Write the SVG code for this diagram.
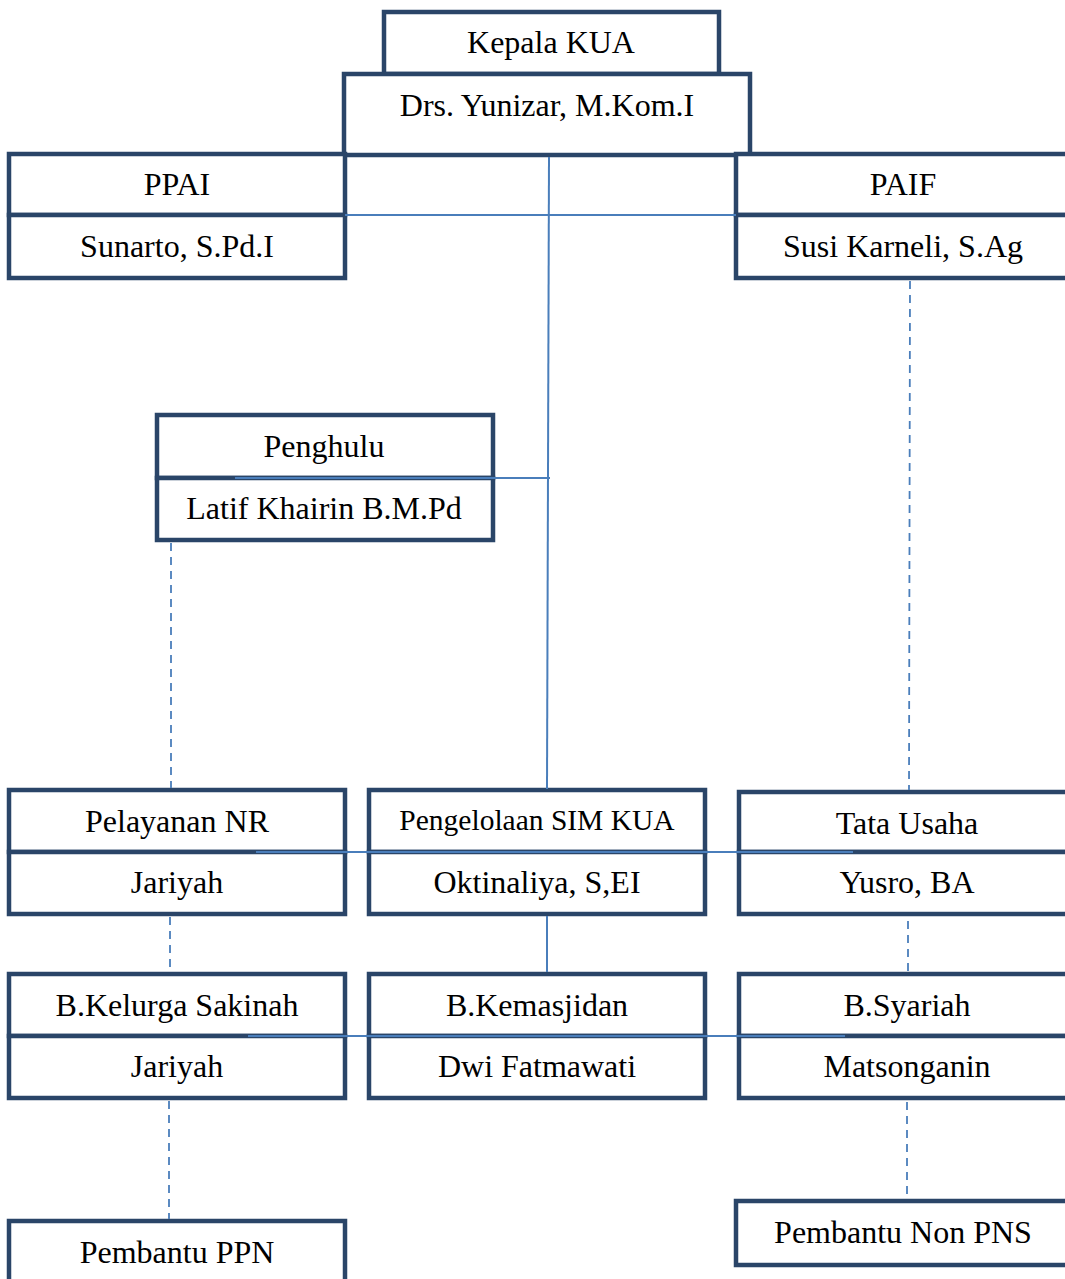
<svg xmlns="http://www.w3.org/2000/svg" width="1065" height="1279" viewBox="0 0 1065 1279">
<style>
.b{fill:#fff;stroke:#2A4568;stroke-width:4.5}
.t{font-family:"Liberation Serif","Times New Roman",serif;font-size:32px;fill:#000;text-anchor:middle}
.s{font-size:29.5px}
.c{stroke:#4A7EBB;stroke-width:2;fill:none}
.d{stroke:#4A7EBB;stroke-width:1.8;fill:none;stroke-dasharray:8,6}
</style>
<rect width="1065" height="1279" fill="#fff"/>
<g id="kepala">
<rect class="b" x="384" y="12" width="335" height="62"/>
<rect class="b" x="344" y="74" width="406" height="81"/>
<text class="t" x="551" y="53">Kepala KUA</text>
<text class="t" x="547" y="116">Drs. Yunizar, M.Kom.I</text>
</g>
<g id="ppai">
<rect class="b" x="9" y="154" width="336" height="61"/>
<rect class="b" x="9" y="215" width="336" height="63"/>
<text class="t" x="177" y="195">PPAI</text>
<text class="t" x="177" y="257">Sunarto, S.Pd.I</text>
</g>
<g id="paif">
<rect class="b" x="736" y="154" width="340" height="61"/>
<rect class="b" x="736" y="215" width="340" height="63"/>
<text class="t" x="903" y="195">PAIF</text>
<text class="t" x="903" y="257">Susi Karneli, S.Ag</text>
</g>
<g id="penghulu">
<rect class="b" x="157" y="415" width="336" height="63"/>
<rect class="b" x="157" y="478" width="336" height="62"/>
<text class="t" x="324" y="457">Penghulu</text>
<text class="t" x="324" y="519">Latif Khairin B.M.Pd</text>
</g>
<g id="pelayanan">
<rect class="b" x="9" y="790" width="336" height="62"/>
<rect class="b" x="9" y="852" width="336" height="62"/>
<text class="t" x="177" y="832">Pelayanan NR</text>
<text class="t" x="177" y="893">Jariyah</text>
</g>
<g id="sim">
<rect class="b" x="369" y="790" width="336" height="62"/>
<rect class="b" x="369" y="852" width="336" height="62"/>
<text class="t s" x="537" y="830">Pengelolaan SIM KUA</text>
<text class="t" x="537" y="893">Oktinaliya, S,EI</text>
</g>
<g id="tatausaha">
<rect class="b" x="739" y="792" width="340" height="60"/>
<rect class="b" x="739" y="852" width="340" height="62"/>
<text class="t" x="907" y="834">Tata Usaha</text>
<text class="t" x="907" y="893">Yusro, BA</text>
</g>
<g id="sakinah">
<rect class="b" x="9" y="974" width="336" height="62"/>
<rect class="b" x="9" y="1036" width="336" height="62"/>
<text class="t" x="177" y="1016">B.Kelurga Sakinah</text>
<text class="t" x="177" y="1077">Jariyah</text>
</g>
<g id="kemasjidan">
<rect class="b" x="369" y="974" width="336" height="62"/>
<rect class="b" x="369" y="1036" width="336" height="62"/>
<text class="t" x="537" y="1016">B.Kemasjidan</text>
<text class="t" x="537" y="1077">Dwi Fatmawati</text>
</g>
<g id="syariah">
<rect class="b" x="739" y="974" width="340" height="62"/>
<rect class="b" x="739" y="1036" width="340" height="62"/>
<text class="t" x="907" y="1016">B.Syariah</text>
<text class="t" x="907" y="1077">Matsonganin</text>
</g>
<g id="pembantuppn">
<rect class="b" x="9" y="1221" width="336" height="70"/>
<text class="t" x="177" y="1263">Pembantu PPN</text>
</g>
<g id="pembantunonpns">
<rect class="b" x="736" y="1201" width="340" height="64"/>
<text class="t" x="903" y="1243">Pembantu Non PNS</text>
</g>
<g id="connectors">
<line class="c" x1="549" y1="157" x2="547" y2="789"/>
<line class="c" x1="345" y1="215" x2="736" y2="215"/>
<line class="c" x1="235" y1="478" x2="550" y2="478"/>
<line class="c" x1="256" y1="852" x2="853" y2="852"/>
<line class="c" x1="547" y1="916" x2="547" y2="972"/>
<line class="c" x1="248" y1="1036" x2="845" y2="1036"/>
<line class="d" x1="171" y1="543" x2="171" y2="788"/>
<line class="d" x1="910" y1="281" x2="909" y2="790"/>
<line class="d" x1="170" y1="917" x2="170" y2="972"/>
<line class="d" x1="908" y1="921" x2="908" y2="972"/>
<line class="d" x1="169" y1="1101" x2="169" y2="1219"/>
<line class="d" x1="907" y1="1102" x2="907" y2="1199"/>
</g>
</svg>
